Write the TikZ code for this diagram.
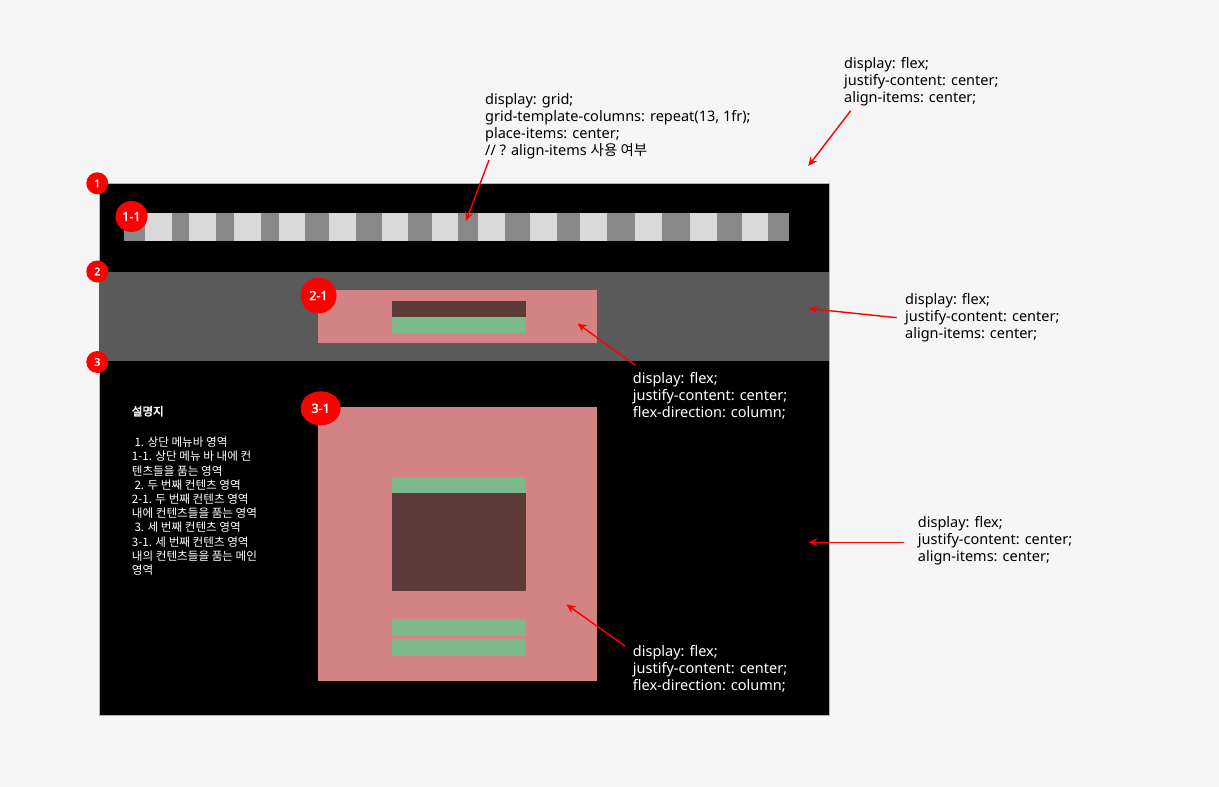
\documentclass[tikz,border=0pt]{standalone}
\usepackage{fontspec}
\setmainfont{Noto Sans}
\newfontfamily\kr{Noto Sans CJK KR}
\newfontfamily\krbold{Noto Sans CJK KR}[FakeBold=2.5]
\newfontfamily\tagfont{Noto Sans}[FakeBold=2.5]
\usetikzlibrary{arrows.meta}
\usetikzlibrary{shapes.geometric}
\definecolor{pagebg}{HTML}{F5F5F5}
\definecolor{stripdark}{HTML}{888888}
\definecolor{striplight}{HTML}{D9D9D9}
\definecolor{bandgray}{HTML}{5A5A5A}
\definecolor{boxpink}{HTML}{D38383}
\definecolor{boxbrown}{HTML}{5C3A3A}
\definecolor{boxgreen}{HTML}{7BB88A}
\definecolor{tagred}{HTML}{FF0000}
\begin{document}
\begin{tikzpicture}[x=1pt, y=-1pt, >={Stealth[length=9pt, width=8pt]},
cssnote/.style={align=left, anchor=north west, inner sep=0pt, font=\fontsize{14.5}{17}\selectfont},
badge/.style={circle, fill=tagred, text=white, inner sep=0pt, minimum size=22pt, font=\tagfont\fontsize{10.5}{10.5}\selectfont},
subbadge/.style={ellipse, fill=tagred, text=white, inner sep=0pt, minimum width=34pt, minimum height=33pt, font=\tagfont\fontsize{12.5}{12.5}\selectfont},
pointer/.style={->, draw=tagred, line width=1.4pt}]
\fill [pagebg] (0,0) rectangle (1219,787);
\fill [black, draw=gray!60, line width=.6pt] (99,183) rectangle (829,715);
\fill [bandgray] (99,272) rectangle (829,361);
\fill [stripdark] (124,213) rectangle (789,241);
\foreach \x in {145,189.3,234,278.7,329.3,381.7,431.7,478.3,530,580,635,690,741.7}
  \fill [striplight] (\x,213) rectangle ++(26.6,28);
\fill [boxpink] (318,290) rectangle (597,343);
\fill [boxbrown] (392,300.5) rectangle (525.5,317.3);
\fill [boxgreen] (392,317.3) rectangle (525.5,333.3);
\fill [boxpink] (318,407) rectangle (597,681);
\fill [boxgreen] (392,477) rectangle (525.5,493.3);
\fill [boxbrown] (392,493.3) rectangle (525.5,591.3);
\fill [boxgreen] (392,619.3) rectangle (525.5,635.7);
\fill [boxgreen] (392,639.3) rectangle (525.5,655.7);
\node [badge] (b1) at (97.3,183.3) {1};
\node [badge] (b2) at (97.3,271.5) {2};
\node [badge] (b3) at (97.3,362) {3};
\node [subbadge, minimum width=32pt, minimum height=31pt] (b11) at (131.5,216.5) {1-1};
\node [subbadge, minimum width=36pt, minimum height=36pt] (b21) at (318.5,295.5) {2-1};
\node [subbadge, minimum width=40pt, minimum height=34pt] (b31) at (320.7,408.3) {3-1};
\node [cssnote] (n1) at (844,57.5) {display: flex;\\justify-content: center;\\align-items: center;};
\node [cssnote] (n2) at (485,93.5) {display: grid;\\grid-template-columns: repeat(13, 1fr);\\place-items: center;\\// ? align-items {\kr 사용 여부}};
\node [cssnote] (n3) at (905,293.5) {display: flex;\\justify-content: center;\\align-items: center;};
\node [cssnote, text=white] (n4) at (632.7,372.5) {display: flex;\\justify-content: center;\\flex-direction: column;};
\node [cssnote] (n5) at (917.7,516) {display: flex;\\justify-content: center;\\align-items: center;};
\node [cssnote, text=white] (n6) at (632.7,645) {display: flex;\\justify-content: center;\\flex-direction: column;};
\node [anchor=base west, inner sep=0pt, text=white, font=\krbold\fontsize{11.5}{14.2}\selectfont] (legend) at (131.7,415.5) {설명지};
\node [anchor=north west, inner sep=0pt, align=left, text=white, font=\kr\fontsize{11.6}{14.2}\selectfont] (items) at (131.7,437) {\ 1. 상단 메뉴바 영역\\1-1. 상단 메뉴 바 내에 컨\\텐츠들을 품는 영역\\\ 2. 두 번째 컨텐츠 영역\\2-1. 두 번째 컨텐츠 영역\\내에 컨텐츠들을 품는 영역\\\ 3. 세 번째 컨텐츠 영역\\3-1. 세 번째 컨텐츠 영역\\내의 컨텐츠들을 품는 메인\\영역};
\coordinate (t1) at (850.7,110.7);
\coordinate (p1) at (808.3,166);
\coordinate (t2) at (489,160);
\coordinate (p2) at (466,221);
\coordinate (t3) at (896.7,317.7);
\coordinate (p3) at (808.5,308.5);
\coordinate (t4) at (635,365);
\coordinate (p4) at (577.5,323.5);
\coordinate (t5) at (904.3,542.3);
\coordinate (p5) at (808.5,542.3);
\coordinate (t6) at (625,646);
\coordinate (p6) at (566.5,604.5);
\draw [pointer] (t1) -- (p1);
\draw [pointer] (t2) -- (p2);
\draw [pointer] (t3) -- (p3);
\draw [pointer] (t4) -- (p4);
\draw [pointer] (t5) -- (p5);
\draw [pointer] (t6) -- (p6);
\end{tikzpicture}
\end{document}
